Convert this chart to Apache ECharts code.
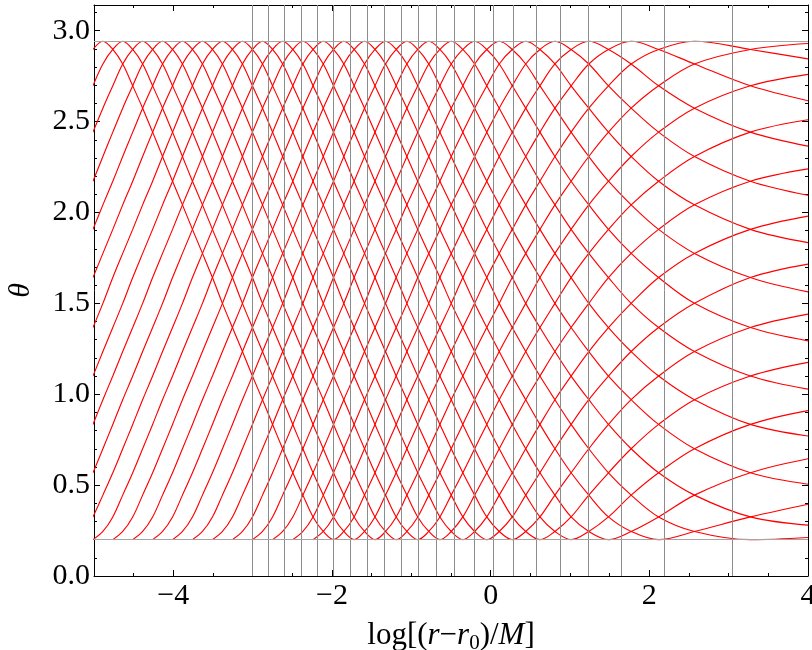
<!DOCTYPE html>
<html>
<head>
<meta charset="utf-8">
<script src="https://cdn.jsdelivr.net/npm/echarts@6/dist/echarts.min.js"></script>
<style>
html, body { margin: 0; padding: 0; background: #fff; }
#chart { width: 812px; height: 650px; }
</style>
</head>
<body>
<div id="chart"></div>
<script>
// x positions of the lattice where the curves reach an extremum
// (top arches and bottom touches alternate along it)
var gridX = [-5.013, -4.888, -4.763, -4.638, -4.512, -4.387, -4.261, -4.136, -4.010, -3.885,
    -3.759, -3.633, -3.507, -3.381, -3.255, -3.129, -3.003, -2.876, -2.749, -2.622,
    -2.494, -2.367, -2.239, -2.110, -1.981, -1.851, -1.721, -1.590, -1.458, -1.325,
    -1.191, -1.056, -0.919, -0.780, -0.640, -0.497, -0.351, -0.202, -0.049, 0.108,
    0.272, 0.442, 0.621, 0.810, 1.014, 1.237, 1.485, 1.771, 2.117, 2.569, 3.274];
// theta along one half swing, bottom -> top, one value per lattice step
var swing = [0.200, 0.245, 0.325, 0.445, 0.568, 0.700, 0.834, 0.970, 1.100, 1.235, 1.367, 1.500,
    1.642, 1.775, 1.907, 2.042, 2.172, 2.308, 2.442, 2.574, 2.697, 2.817, 2.897, 2.942];
// lattice index of each curve's first minimum (negative: before the left edge)
var curveStart = [-22, -20, -18, -16, -14, -12, -10, -8, -6, -4, -2, 0,
    2, 4, 6, 8, 10, 12, 14, 16, 18, 20, 22];
// theta of each curve where it leaves the frame at x = 4
var rightEdgeTheta = [2.615, 2.845, 2.93, 2.76, 2.51, 2.24, 1.98, 1.716, 1.441, 1.175, 0.91, 0.645,
    0.395, 0.212, 0.28, 0.505, 0.77, 1.028, 1.294, 1.563, 1.834, 2.095, 2.365];
// gray guide lines
var verticalLinesX = [-3.0, -2.8, -2.596, -2.386, -2.184, -1.979, -1.768, -1.559, -1.339, -1.13,
    -0.911, -0.684, -0.457, -0.214, 0.03, 0.294, 0.577, 0.883, 1.232, 1.643, 2.185, 3.035];
var boundTheta = [0.2, 2.9416];
var xTickLabels = [-4, -2, 0, 2, 4];

var xMin = -5, xMax = 4;
var font = '"Liberation Serif", "DejaVu Serif", serif';

var myChart = echarts.init(document.getElementById('chart'));

var half = swing.length - 1;
var period = 2 * half;
var series = [];

// guide lines
series.push({
    type: 'line',
    data: [],
    silent: true,
    z: 1,
    markLine: {
        silent: true,
        symbol: ['none', 'none'],
        label: { show: false },
        lineStyle: { color: '#8c8c8c', type: 'solid', width: 1 },
        data: verticalLinesX.map(function (v) { return { xAxis: v }; })
            .concat(boundTheta.map(function (v) { return { yAxis: v, lineStyle: { color: '#a6a6a6' } }; }))
    }
});

curveStart.forEach(function (s, k) {
    var pts = [];
    for (var j = Math.max(0, s); j < gridX.length; j++) {
        var q = ((j - s) % period + period) % period;
        if (q > half) q = period - q;
        pts.push([gridX[j], swing[q]]);
    }
    pts.push([xMax, rightEdgeTheta[k]]);
    series.push({
        type: 'line',
        data: pts,
        smooth: 0.35,
        symbol: 'none',
        silent: true,
        z: 2,
        lineStyle: { color: '#ff0000', width: 1.15 }
    });
});

function minus(v) {
    return String(v).replace('-', '\u2212');
}

var frameLine = { show: true, onZero: false, lineStyle: { color: '#000', width: 1 } };
var noLine = { show: false, onZero: false };

var option = {
    animation: false,
    grid: { left: 94, right: 4, top: 5, bottom: 74, containLabel: false, outerBoundsMode: 'none' },
    xAxis: [{
        type: 'value', position: 'bottom', min: xMin, max: xMax, interval: 0.5,
        axisLine: frameLine,
        axisTick: { inside: true, length: 3, lineStyle: { color: '#000' } },
        axisLabel: {
            customValues: xTickLabels, formatter: minus, margin: 5,
            color: '#000', fontFamily: font, fontSize: 30
        },
        splitLine: { show: false },
        name: '{n|log[(}{i|r}{n|\u2212}{i|r}{s|0}{n|)/}{i|M}{n|]}',
        nameLocation: 'middle',
        nameGap: 42,
        nameTextStyle: {
            rich: {
                n: { fontFamily: font, fontSize: 31, color: '#000' },
                i: { fontFamily: font, fontSize: 31, fontStyle: 'italic', color: '#000' },
                s: { fontFamily: font, fontSize: 21, color: '#000', padding: [15, 0, 0, 0] }
            }
        }
    }, {
        type: 'value', position: 'bottom', min: xMin, max: xMax,
        axisLine: noLine,
        axisTick: { inside: true, length: 6, customValues: xTickLabels, lineStyle: { color: '#000' } },
        axisLabel: { show: false },
        splitLine: { show: false }
    }, {
        type: 'value', position: 'top', min: xMin, max: xMax, interval: 0.5,
        axisLine: frameLine,
        axisTick: { inside: true, length: 3, lineStyle: { color: '#000' } },
        axisLabel: { show: false },
        splitLine: { show: false }
    }, {
        type: 'value', position: 'top', min: xMin, max: xMax,
        axisLine: noLine,
        axisTick: { inside: true, length: 6, customValues: xTickLabels, lineStyle: { color: '#000' } },
        axisLabel: { show: false },
        splitLine: { show: false }
    }],
    yAxis: [{
        type: 'value', position: 'left', min: 0, max: Math.PI, interval: 0.5,
        axisLine: frameLine,
        axisTick: { inside: true, length: 6, lineStyle: { color: '#000' } },
        axisLabel: {
            showMaxLabel: false, margin: 4, color: '#000', fontFamily: font, fontSize: 30,
            formatter: function (v) { return v.toFixed(1); }
        },
        splitLine: { show: false },
        name: '\u03b8',
        nameLocation: 'middle',
        nameRotate: 90,
        nameGap: 58,
        nameTextStyle: { fontFamily: font, fontSize: 30, fontStyle: 'italic', color: '#000' }
    }, {
        type: 'value', position: 'left', min: 0, max: Math.PI, interval: 0.1,
        axisLine: noLine,
        axisTick: { inside: true, length: 3, lineStyle: { color: '#000' } },
        axisLabel: { show: false },
        splitLine: { show: false }
    }, {
        type: 'value', position: 'right', min: 0, max: Math.PI, interval: 0.5,
        axisLine: frameLine,
        axisTick: { inside: true, length: 6, lineStyle: { color: '#000' } },
        axisLabel: { show: false },
        splitLine: { show: false }
    }, {
        type: 'value', position: 'right', min: 0, max: Math.PI, interval: 0.1,
        axisLine: noLine,
        axisTick: { inside: true, length: 3, lineStyle: { color: '#000' } },
        axisLabel: { show: false },
        splitLine: { show: false }
    }],
    series: series
};

myChart.setOption(option);
</script>
</body>
</html>
